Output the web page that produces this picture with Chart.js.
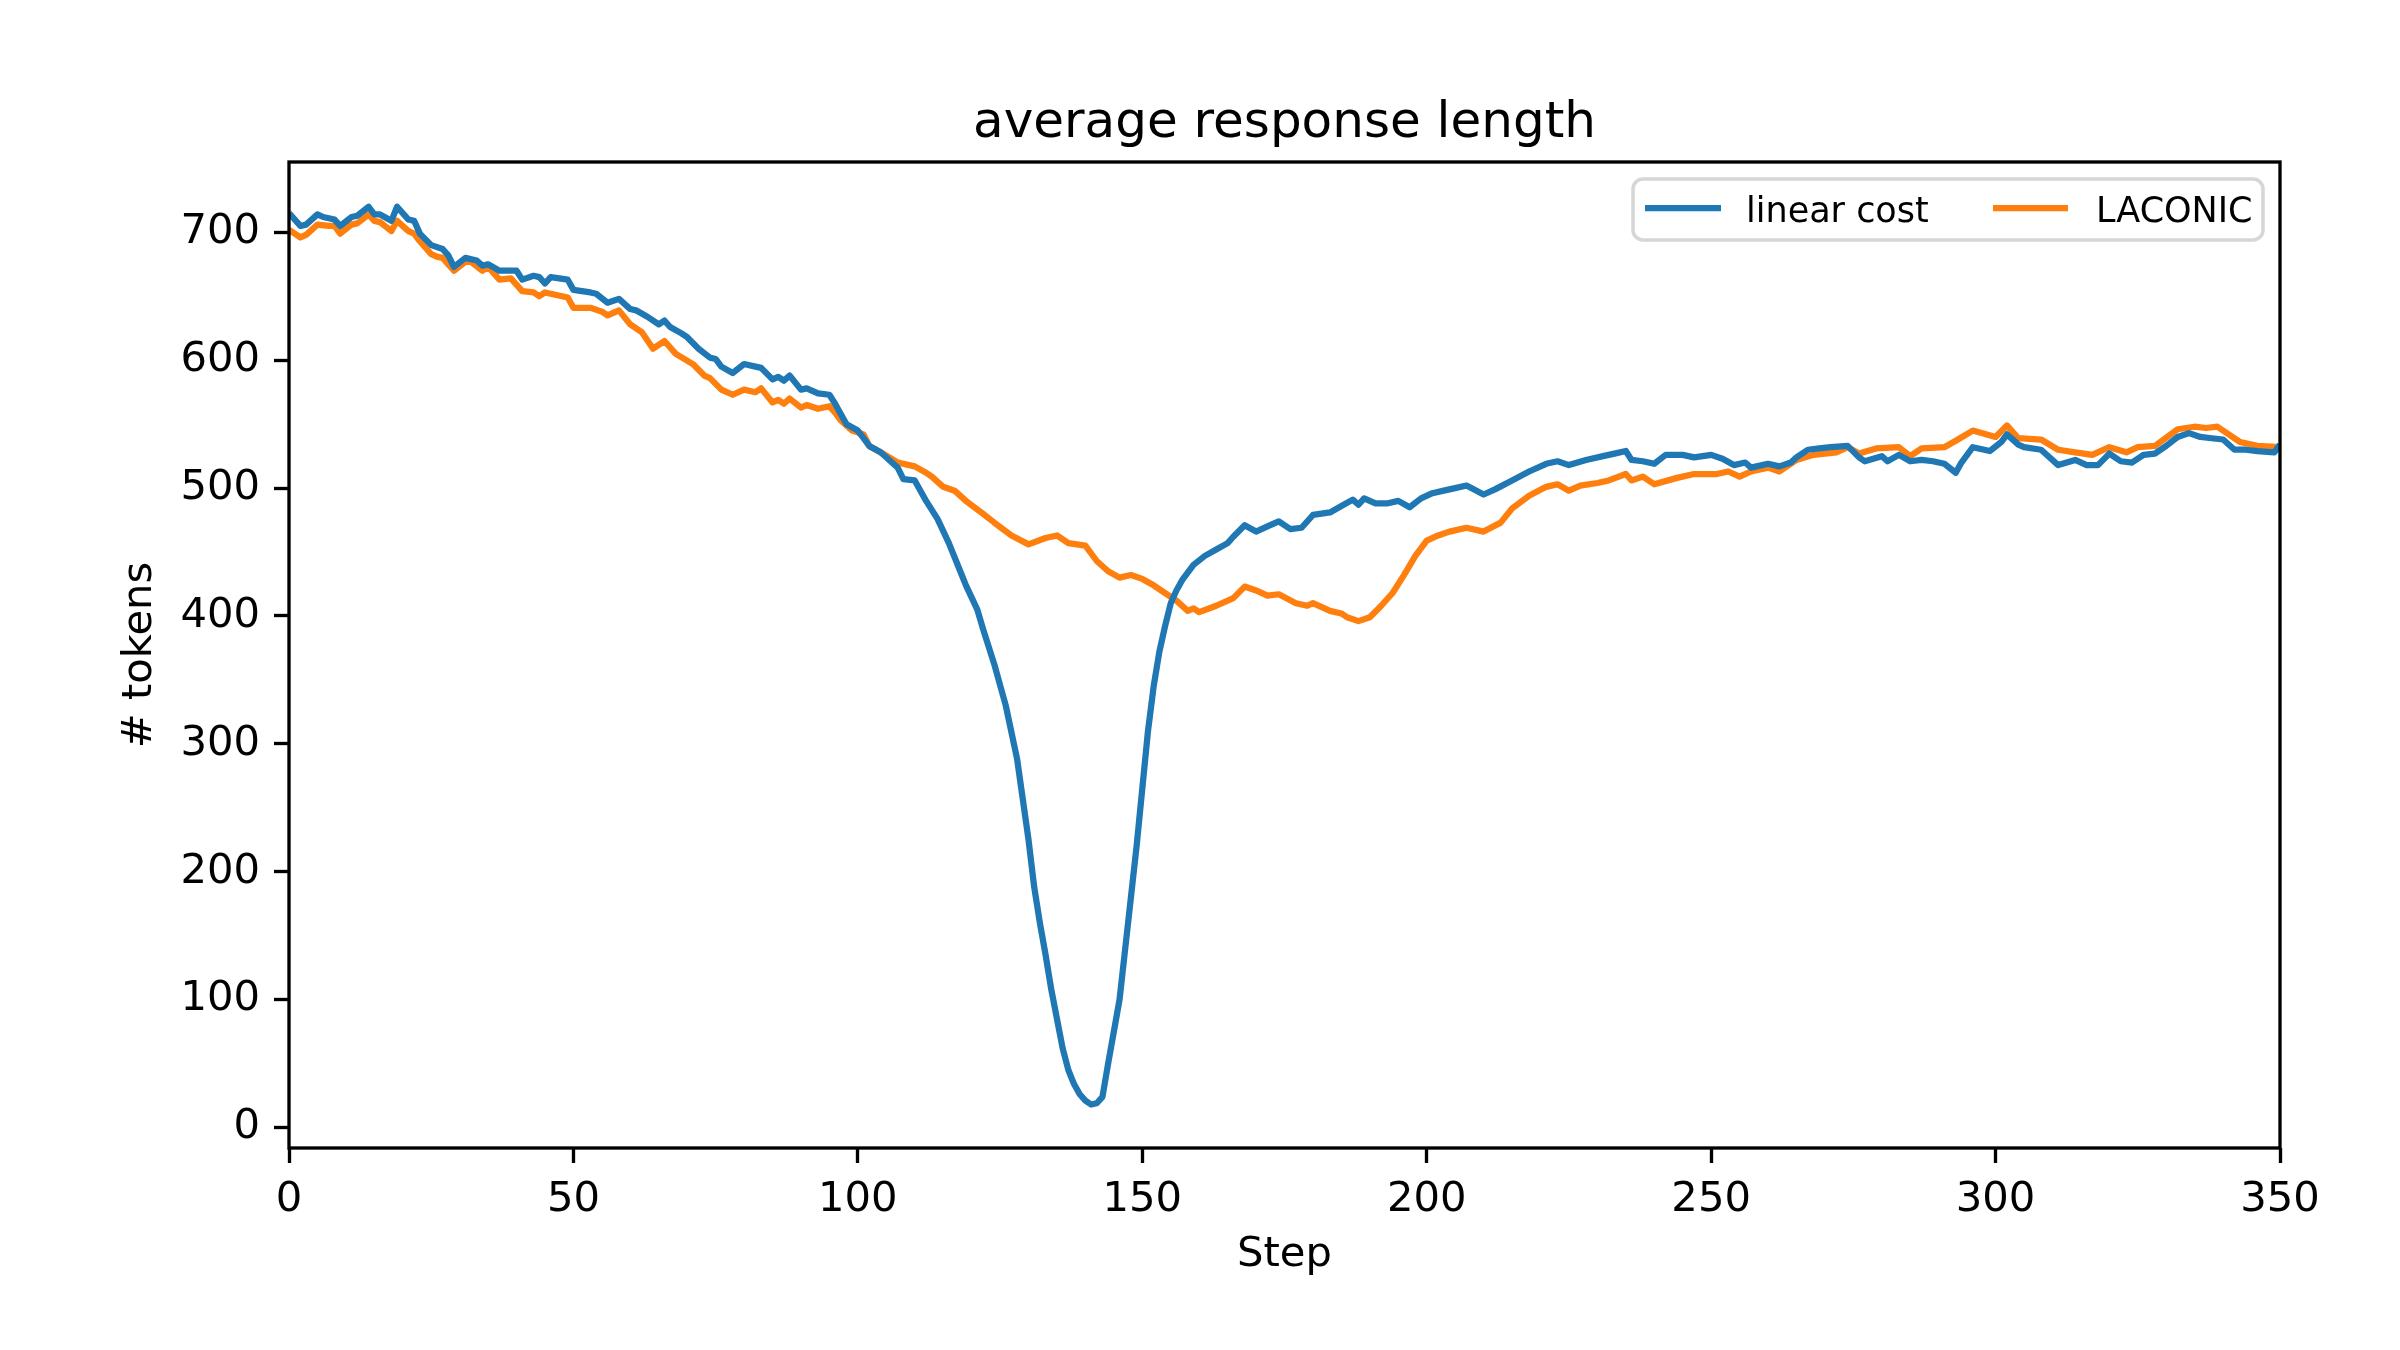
<!DOCTYPE html>
<html>
<head>
<meta charset="utf-8">
<script src="https://cdn.jsdelivr.net/npm/chart.js@4/dist/chart.umd.min.js"></script>
<style>
  html, body { margin: 0; padding: 0; background: #fff; }
  #chart { display: block; }
</style>
</head>
<body>
<canvas id="chart" width="2400" height="1350" style="width:2400px;height:1350px"></canvas>
<script>
// values
const linearSteps = [0,2,3,5,6,8,9,11,12,14,15,16,18,19,21,22,23,25,27,28,29,31,33,34,35,37,40,41,43,44,45,46,49,50,53,54,56,58,60,61,63,65,66,67,69,70,72,74,75,76,78,80,82,83,85,86,87,88,90,91,93,95,96,98,100,101,102,104,107,108,110,112,114,116,118,119,121,122,124,126,128,130,131,132,133,134,135,136,137,138,139,140,141,142,143,144,145,146,147,148,149,150,151,152,153,154,155,156,157,159,161,163,165,166,168,170,172,174,176,178,180,183,185,187,188,189,191,193,195,197,199,201,203,205,207,210,212,215,218,221,223,225,228,231,233,235,236,238,240,242,245,247,250,252,254,256,257,260,262,264,265,267,269,271,274,276,277,280,281,283,285,287,289,291,293,294,296,299,301,302,304,305,308,311,314,316,318,320,322,324,326,328,330,332,334,336,338,340,342,344,346,349,350];
const linearTokens = [715,705,706,714,712,710,705,712,713,720,714,714,709,720,710,709,699,690,687,682,673,680,678,674,675,670,670,663,666,665,660,665,663,655,653,652,645,648,640,639,634,628,631,626,621,618,609,602,601,595,590,597,595,594,585,587,584,588,577,578,574,573,566,550,545,539,533,528,516,507,506,490,476,457,435,424,405,390,362,330,288,225,188,160,135,108,85,62,45,34,26,21,18,19,24,50,75,100,140,180,220,265,310,345,372,392,410,420,428,440,447,452,457,462,471,466,470,474,468,469,479,481,486,491,487,492,488,488,490,485,492,496,498,500,502,495,499,506,513,519,521,518,522,525,527,529,522,521,519,526,526,524,526,523,518,520,516,519,517,520,524,530,531,532,533,524,521,525,521,526,521,522,521,519,512,520,532,529,536,542,534,532,530,518,522,518,518,527,521,520,526,527,533,540,543,540,539,538,530,530,529,528,534];

const laconicSteps = [0,2,3,5,7,8,9,11,12,14,15,16,18,19,21,22,23,25,26,27,29,31,32,34,35,37,39,41,43,44,45,49,50,53,55,56,58,60,62,64,66,68,71,73,74,76,78,80,82,83,85,86,87,88,90,91,93,95,96,97,99,101,102,104,107,110,112,113,115,117,119,122,124,127,130,133,135,137,140,142,144,146,148,150,152,155,156,158,159,160,163,166,168,170,172,174,177,179,180,183,185,186,188,190,192,194,196,198,200,202,204,207,210,213,215,218,221,223,225,227,230,232,235,236,238,240,244,247,251,253,255,257,260,262,265,268,272,274,276,279,283,285,287,291,293,296,300,302,304,308,311,314,317,320,323,325,328,332,335,337,339,343,346,350];
const laconicTokens = [702,696,698,706,705,705,699,706,707,714,709,708,701,709,701,699,693,683,681,680,670,677,677,670,673,663,664,654,653,650,653,649,641,641,638,635,639,628,622,609,615,605,597,588,586,577,573,577,575,578,567,569,566,570,563,565,562,564,559,553,545,542,533,528,520,517,512,509,501,498,490,480,473,463,456,461,463,457,455,443,435,430,432,429,424,415,412,404,406,403,408,414,423,420,416,417,410,408,410,404,402,399,396,399,408,418,432,447,459,463,466,469,466,473,484,494,501,503,498,502,504,506,511,506,509,503,508,511,511,513,509,513,516,513,522,526,528,532,527,531,532,525,531,532,537,545,540,549,539,538,530,528,526,532,528,532,533,546,548,547,548,536,533,532];

const seriesNames = ['linear cost', 'LACONIC'];
const seriesColors = ['#1f77b4', '#ff7f0e'];
const xTicks = [0, 50, 100, 150, 200, 250, 300, 350];
const yTicks = [0, 100, 200, 300, 400, 500, 600, 700];

const FONT = 'DejaVu Sans';

function toPoints(xs, ys) {
  return xs.map((x, i) => ({ x: x, y: ys[i] }));
}

// title, in-axes legend and the box round the axes (matplotlib style)
const decorations = {
  id: 'decorations',
  afterDatasetsDraw(chart) {
    const { ctx, chartArea: a } = chart;
    ctx.save();
    ctx.strokeStyle = '#000';
    ctx.lineWidth = 3.33;
    ctx.strokeRect(a.left, a.top, a.right - a.left, a.bottom - a.top);
    ctx.restore();
  },
  afterDraw(chart) {
    const { ctx, chartArea: a } = chart;
    ctx.save();

    // title
    ctx.fillStyle = '#000';
    ctx.font = `50px "${FONT}"`;
    ctx.textAlign = 'center';
    ctx.textBaseline = 'alphabetic';
    ctx.fillText('average response length', (a.left + a.right) / 2, a.top - 25);

    // legend box
    const bx = 1633, by = a.top + 17, bw = a.right - 17 - bx, bh = 61, r = 10;
    ctx.beginPath();
    ctx.moveTo(bx + r, by);
    ctx.arcTo(bx + bw, by, bx + bw, by + bh, r);
    ctx.arcTo(bx + bw, by + bh, bx, by + bh, r);
    ctx.arcTo(bx, by + bh, bx, by, r);
    ctx.arcTo(bx, by, bx + bw, by, r);
    ctx.closePath();
    ctx.fillStyle = 'rgba(255,255,255,0.8)';
    ctx.fill();
    ctx.strokeStyle = 'rgba(204,204,204,0.8)';
    ctx.lineWidth = 3.5;
    ctx.stroke();

    const items = [
      { x0: 1645, x1: 1721, tx: 1746 },
      { x0: 1993, x1: 2068, tx: 2096 }
    ];
    ctx.font = `35px "${FONT}"`;
    ctx.textAlign = 'left';
    items.forEach((it, i) => {
      ctx.strokeStyle = seriesColors[i];
      ctx.lineWidth = 6.25;
      ctx.beginPath();
      ctx.moveTo(it.x0, by + 29);
      ctx.lineTo(it.x1, by + 29);
      ctx.stroke();
      ctx.fillStyle = '#000';
      ctx.fillText(seriesNames[i], it.tx, by + 43);
    });
    ctx.restore();
  }
};

new Chart(document.getElementById('chart').getContext('2d'), {
  type: 'line',
  data: {
    datasets: [
      {
        label: seriesNames[0],
        data: toPoints(linearSteps, linearTokens),
        borderColor: seriesColors[0],
        borderWidth: 6.25,
        pointRadius: 0,
        tension: 0,
        borderJoinStyle: 'round',
        fill: false
      },
      {
        label: seriesNames[1],
        data: toPoints(laconicSteps, laconicTokens),
        borderColor: seriesColors[1],
        borderWidth: 6.25,
        pointRadius: 0,
        tension: 0,
        borderJoinStyle: 'round',
        fill: false
      }
    ]
  },
  options: {
    responsive: false,
    animation: false,
    devicePixelRatio: 1,
    layout: { padding: { top: 162, right: 120, bottom: 0, left: 0 } },
    plugins: {
      legend: { display: false },
      title: { display: false },
      tooltip: { enabled: false }
    },
    scales: {
      x: {
        type: 'linear',
        min: 0,
        max: 350,
        afterBuildTicks: s => { s.ticks = xTicks.map(v => ({ value: v })); },
        afterFit: s => { s.height = 202; },
        grid: { drawOnChartArea: false, tickLength: 15, tickWidth: 3.33, tickColor: '#000' },
        border: { display: false },
        ticks: {
          color: '#000',
          font: { family: FONT, size: 41.7 },
          padding: 12,
          maxRotation: 0,
          autoSkip: false
        },
        title: {
          display: true,
          text: 'Step',
          color: '#000',
          font: { family: FONT, size: 41.7 },
          padding: { top: 0, bottom: 70 }
        }
      },
      y: {
        type: 'linear',
        min: -16,
        max: 755,
        afterBuildTicks: s => { s.ticks = yTicks.map(v => ({ value: v })); },
        afterFit: s => { s.width = 289; },
        grid: { drawOnChartArea: false, tickLength: 15, tickWidth: 3.33, tickColor: '#000' },
        border: { display: false },
        ticks: {
          color: '#000',
          font: { family: FONT, size: 41.7 },
          padding: 14,
          autoSkip: false
        },
        title: {
          display: true,
          text: '# tokens',
          color: '#000',
          font: { family: FONT, size: 41.7 },
          padding: { top: 115, bottom: 0 }
        }
      }
    }
  },
  plugins: [decorations]
});
</script>
</body>
</html>
